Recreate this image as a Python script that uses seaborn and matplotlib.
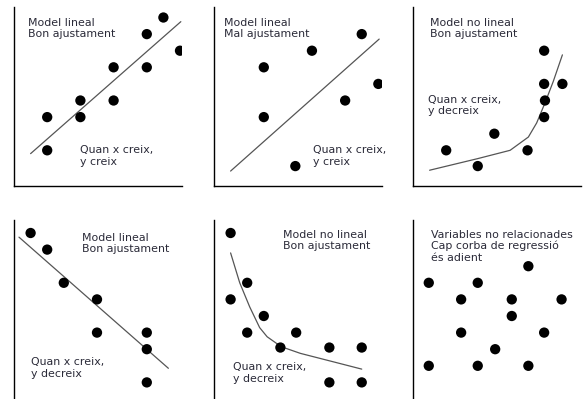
import matplotlib
matplotlib.use('Agg')
import matplotlib.pyplot as plt
import seaborn as sns

sns.set_theme(style='white')
plt.rcParams['font.family'] = ['DejaVu Sans']

W, H = 586, 399
UNIT = 16.6  # pixels per grid step

# panel 1: linear, good fit
p1_x = [2, 2, 4, 4, 6, 6, 8, 8, 9, 10]
p1_y = [4.15, 2.15, 5.15, 4.15, 7.15, 5.15, 9.15, 7.15, 10.15, 8.15]
p1_lx = [1.0, 10.05]
p1_ly = [1.95, 9.9]

# panel 2: linear, bad fit
p2_x = [3, 3, 5.9, 8.9, 7.9, 9.9, 4.9]
p2_y = [7.15, 4.15, 8.15, 9.15, 5.15, 6.15, 1.2]
p2_lx = [1.0, 9.95]
p2_ly = [0.9, 8.85]

# panel 3: non linear, growing
p3_x = [2, 3.9, 4.9, 6.9, 7.9, 7.9, 9, 7.95, 7.9]
p3_y = [2.15, 1.2, 3.15, 2.15, 8.15, 6.15, 6.15, 5.15, 4.15]
p3_lx = [1.0, 3.9, 5.85, 6.95, 7.45, 7.95, 8.45, 9.0]
p3_ly = [0.95, 1.65, 2.15, 2.95, 3.8, 5.0, 6.3, 7.9]

# panel 4: linear, decreasing
p4_x = [1, 2, 3, 5, 5, 8, 8, 8]
p4_y = [10, 9, 7, 6, 4, 4, 3, 1]
p4_lx = [0.3, 9.3]
p4_ly = [9.75, 1.85]

# panel 5: non linear, decreasing
p5_x = [1, 2, 1, 3, 2, 4.95, 4, 6.95, 8.9, 6.95, 8.9]
p5_y = [10, 7, 6, 5, 4, 4, 3.1, 3.1, 3.1, 1, 1]
p5_lx = [1.0, 1.55, 2.15, 2.75, 3.2, 4.05, 5.2, 7.15, 8.9]
p5_ly = [8.8, 7.0, 5.55, 4.3, 3.75, 3.15, 2.75, 2.25, 1.8]

# panel 6: no relation
p6_x = [6.95, 0.95, 3.9, 2.9, 5.95, 8.95, 5.95, 2.9, 7.9, 4.95, 0.95, 3.9, 6.95]
p6_y = [8, 7, 7, 6, 6, 6, 5, 4, 4, 3, 2, 2, 2]

panels = [
    # left px, top px, points, line, texts
    (14, 7, p1_x, p1_y, p1_lx, p1_ly,
     [(0.85, 10.15, 'Model lineal\nBon ajustament'), (4.0, 2.45, 'Quan x creix,\ny creix')]),
    (214, 7, p2_x, p2_y, p2_lx, p2_ly,
     [(0.6, 10.15, 'Model lineal\nMal ajustament'), (5.95, 2.45, 'Quan x creix,\ny creix')]),
    (413, 7, p3_x, p3_y, p3_lx, p3_ly,
     [(1.0, 10.15, 'Model no lineal\nBon ajustament'), (0.9, 5.5, 'Quan x creix,\ny decreix')]),
    (14, 220, p4_x, p4_y, p4_lx, p4_ly,
     [(4.1, 10.0, 'Model lineal\nBon ajustament'), (1.05, 2.5, 'Quan x creix,\ny decreix')]),
    (214, 220, p5_x, p5_y, p5_lx, p5_ly,
     [(4.15, 10.2, 'Model no lineal\nBon ajustament'), (1.15, 2.2, 'Quan x creix,\ny decreix')]),
    (413, 220, p6_x, p6_y, None, None,
     [(1.1, 10.2, 'Variables no relacionades\nCap corba de regressió\nés adient')]),
]

fig = plt.figure(figsize=(W / 100, H / 100), dpi=100)
aw, ah = 168, 179
for left, top, px, py, lx, ly, texts in panels:
    ax = fig.add_axes([left / W, 1 - (top + ah) / H, aw / W, ah / H])
    if lx is not None:
        sns.lineplot(x=lx, y=ly, ax=ax, sort=False, color='#555555', linewidth=0.9)
    sns.scatterplot(x=px, y=py, ax=ax, color='black', s=55, edgecolor='none', zorder=3)
    ax.set_xlim(0, aw / UNIT)
    ax.set_ylim(0, ah / UNIT)
    ax.set_xticks([])
    ax.set_yticks([])
    for side in ['top', 'right']:
        ax.spines[side].set_visible(False)
    for side in ['left', 'bottom']:
        ax.spines[side].set_color('black')
        ax.spines[side].set_linewidth(1.0)
    if top > 100:
        # bottom axis of the lower row falls outside the picture
        ax.spines['bottom'].set_visible(False)
    for tx, ty, s in texts:
        ax.text(tx, ty, s, fontsize=7.9, color='#2a2a38', va='top', ha='left',
                linespacing=1.15)

fig.savefig('out.png', dpi=100)
